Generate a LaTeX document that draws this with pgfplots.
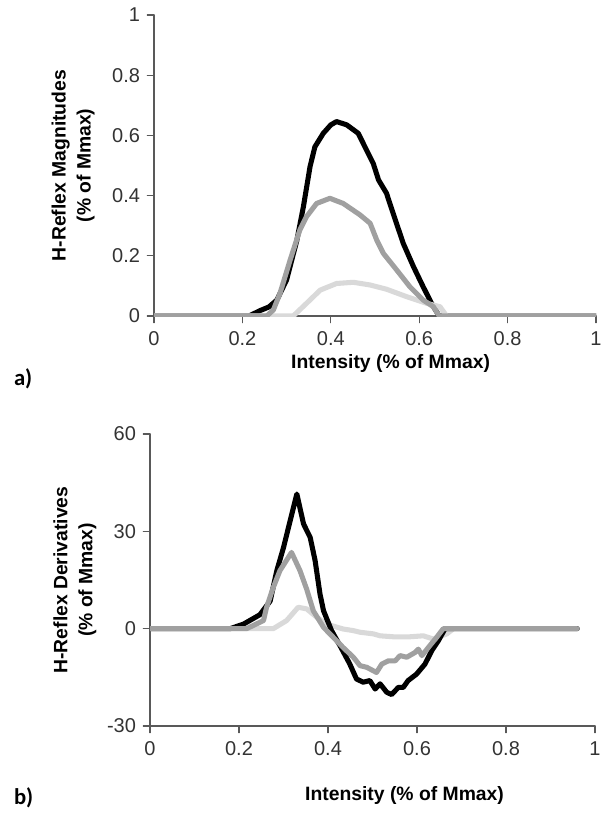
\documentclass[border=0pt]{standalone}
\usepackage{pgfplots}
\pgfplotsset{compat=1.18}
\usepackage{fontspec}
\setmainfont{Liberation Sans}
\newfontfamily\calibri{Carlito}
\definecolor{cMid}{HTML}{A0A0A0}
\definecolor{cLight}{HTML}{D9D9D9}
\definecolor{cAxis}{HTML}{595959}
\tikzset{
  xl/.style={font=\fontsize{14.5}{18}\selectfont\bfseries, anchor=base},
  yl/.style={font=\fontsize{14.5}{18.75}\selectfont\bfseries, align=center, rotate=90, anchor=center},
}
\begin{document}
\begin{tikzpicture}
\useasboundingbox (0,0) rectangle (450.75pt,-609.75pt);
\pgfplotsset{
  common/.style={
    scale only axis,
    axis x line*=bottom, axis y line*=left,
    axis line style={-, draw=cAxis, line width=0.9pt},
    every tick/.style={draw=cAxis, line width=0.9pt},
    tick align=outside, major tick length=5pt,
    xmin=0, xmax=1, xtick={0,0.2,0.4,0.6,0.8,1},
    /pgf/number format/assume math mode=true,
    tick label style={font=\fontsize{15}{18}\selectfont, text=black!80},
    xticklabel style={yshift=-3pt},
    yticklabel style={xshift=-2pt},
    line join=round, line cap=round,
  },
  curve/.style={no markers, line width=3.8pt},
}
% ---------------- panel a ----------------
\begin{axis}[common,
  at={(115.5pt,-237pt)}, anchor=south west,
  width=331.5pt, height=225.75pt,
  ymin=0, ymax=1, ytick={0,0.2,0.4,0.6,0.8,1},
  xlabel={Intensity (\% of Mmax)},
  every axis x label/.style={xl, at={(axis description cs:0.5353,0)}, yshift=-39pt},
  ylabel={H-Reflex Magnitudes\\(\% of Mmax)},
  every axis y label/.style={yl, at={(axis description cs:-0.183,0.5)}},
]
\addplot[curve, black] coordinates {
(0,0) (0.215,0) (0.24,0.018) (0.26,0.03) (0.278,0.053) (0.30,0.12) (0.323,0.25)
(0.338,0.363) (0.353,0.496) (0.364,0.562) (0.383,0.607) (0.400,0.635) (0.413,0.646)
(0.436,0.635) (0.462,0.607) (0.481,0.551) (0.496,0.507) (0.508,0.452) (0.526,0.408)
(0.541,0.341) (0.564,0.241) (0.587,0.164) (0.609,0.097) (0.628,0.042) (0.645,0) (1,0)};
\addplot[curve, cLight] coordinates {
(0,0) (0.315,0) (0.345,0.042) (0.376,0.086) (0.413,0.108) (0.451,0.112) (0.489,0.103)
(0.526,0.089) (0.572,0.064) (0.617,0.042) (0.647,0.031) (0.662,0) (1,0)};
\addplot[curve, cMid] coordinates {
(0,0) (0.255,0) (0.27,0.02) (0.285,0.075) (0.308,0.186) (0.330,0.286) (0.345,0.33)
(0.368,0.374) (0.398,0.391) (0.428,0.374) (0.466,0.336) (0.489,0.308) (0.504,0.252)
(0.519,0.208) (0.549,0.153) (0.579,0.097) (0.609,0.053) (0.632,0.031) (0.645,0) (1,0)};
\end{axis}
% ---------------- panel b ----------------
\begin{axis}[common,
  at={(112.5pt,-544.5pt)}, anchor=south west,
  width=333.75pt, height=219pt,
  ymin=-30, ymax=60, ytick={-30,0,30,60},
  xlabel={Intensity (\% of Mmax)},
  every axis x label/.style={xl, at={(axis description cs:0.572,0)}, yshift=-56pt},
  ylabel={H-Reflex Derivatives\\(\% of Mmax)},
  every axis y label/.style={yl, at={(axis description cs:-0.169,0.5)}},
]
\addplot[curve, cLight] coordinates {
(0,0) (0.277,0) (0.307,2.5) (0.333,6.6) (0.352,6.1) (0.375,3.5) (0.397,1.4) (0.434,-0.1)
(0.457,-0.6) (0.472,-1.1) (0.502,-1.6) (0.517,-2.2) (0.547,-2.5) (0.584,-2.5) (0.614,-2.2)
(0.637,-3.2) (0.667,-1.6) (0.682,0) (0.96,0)};
\addplot[curve, black] coordinates {
(0,0) (0.18,0) (0.21,1.4) (0.247,4.3) (0.27,8.5) (0.285,17.9) (0.30,25) (0.315,33.3)
(0.330,41.5) (0.345,32.3) (0.36,28.1) (0.371,21) (0.382,10.7) (0.39,5.5) (0.408,-0.6)
(0.43,-6) (0.449,-10.9) (0.464,-15.5) (0.479,-16.5) (0.494,-16.0) (0.506,-18.6)
(0.517,-17.0) (0.532,-19.6) (0.543,-20.3) (0.558,-18.1) (0.569,-18.1) (0.580,-16.0)
(0.599,-14.0) (0.618,-10.9) (0.633,-6.8) (0.648,-3.7) (0.663,0) (0.96,0)};
\addplot[curve, cMid] coordinates {
(0,0) (0.217,0) (0.255,2.5) (0.262,6.6) (0.277,12.7) (0.292,17.9) (0.318,23.5)
(0.337,17.9) (0.352,12.2) (0.367,5.5) (0.39,0.4) (0.412,-2.7) (0.434,-5.8) (0.457,-8.8)
(0.472,-11.4) (0.487,-11.9) (0.509,-13.5) (0.521,-10.9) (0.536,-9.9) (0.551,-9.9)
(0.562,-8.3) (0.577,-8.8) (0.596,-7.3) (0.603,-6.3) (0.611,-8.3) (0.629,-5.2)
(0.644,-2.7) (0.659,0) (0.96,0)};
\end{axis}
\node[anchor=base west, font=\calibri\fontsize{17}{20}\selectfont\bfseries] at (7pt,-289pt) {a)};
\node[anchor=base west, font=\calibri\fontsize{17}{20}\selectfont\bfseries] at (7pt,-603pt) {b)};
\end{tikzpicture}
\end{document}
